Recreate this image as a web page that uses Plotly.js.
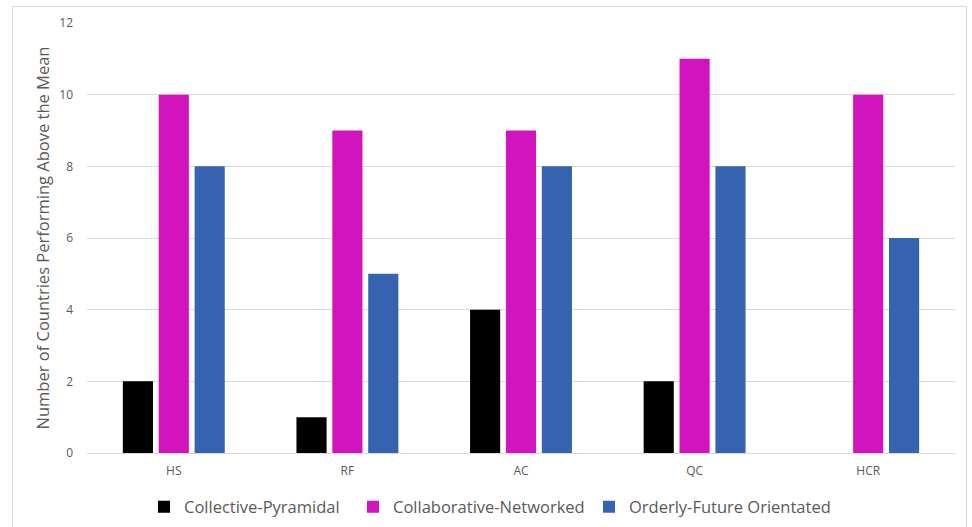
<!DOCTYPE html>
<html>
<head>
<meta charset="utf-8">
<script src="https://cdn.plot.ly/plotly-3.0.1.min.js"></script>
<style>
html,body{margin:0;padding:0;background:#fff;}
#wrap{position:relative;width:972px;height:527px;overflow:hidden;}
#frame{position:absolute;left:12px;top:6px;width:953px;height:540px;border:1px solid #d9d9d9;pointer-events:none;z-index:5;}
#chart{position:absolute;left:0;top:0;width:972px;height:527px;}
</style>
</head>
<body>
<div id="wrap"><div id="chart"></div><div id="frame"></div></div>
<script>
const categories = ["HS", "RF", "AC", "QC", "HCR"];
const collectivePyramidal = [2, 1, 4, 2, 0];
const collaborativeNetworked = [10, 9, 9, 11, 10];
const orderlyFuture = [8, 5, 8, 8, 6];
const seriesNames = ["Collective-Pyramidal", "Collaborative-Networked", "Orderly-Future Orientated"];
const seriesColors = ["#000000", "#D214BE", "#3563B0"];
const yTicks = [0, 2, 4, 6, 8, 10, 12];

const legendIds = ["legend", "legend2", "legend3"];
const legendX = [144, 353, 589];

const allValues = [collectivePyramidal, collaborativeNetworked, orderlyFuture];
const traces = allValues.map((vals, i) => ({
  type: "bar",
  x: categories,
  y: vals,
  name: seriesNames[i],
  legend: legendIds[i],
  marker: {color: seriesColors[i]},
  hoverinfo: "x+y+name"
}));

const layout = {
  width: 972, height: 527,
  paper_bgcolor: "#ffffff", plot_bgcolor: "#ffffff",
  margin: {l: 87, r: 17, t: 23, b: 74},
  barmode: "group",
  bargap: 0.38,
  bargroupgap: 0.16,
  font: {family: "Open Sans, sans-serif", color: "#595959"},
  xaxis: {
    type: "category",
    showgrid: false, zeroline: false, showline: false,
    ticks: "", ticklabelstandoff: 9,
    tickfont: {size: 12, color: "#595959"}
  },
  yaxis: {
    range: [0, 12],
    tickvals: yTicks,
    ticktext: yTicks.map(String),
    gridcolor: "#d9d9d9", gridwidth: 1,
    zeroline: true, zerolinecolor: "#d9d9d9", zerolinewidth: 1,
    showline: false, ticks: "",
    ticklabelstandoff: 13,
    tickfont: {size: 12, color: "#595959"},
    title: {text: "Number of Countries Performing Above the Mean", font: {size: 16.5, color: "#595959"}, standoff: 5}
  },
  showlegend: true
};
legendIds.forEach((id, i) => {
  layout[id] = {
    orientation: "h",
    xref: "container", yref: "container",
    x: legendX[i] / 972, xanchor: "left",
    y: 1 - 507 / 527, yanchor: "middle",
    font: {size: 16.5, color: "#595959"},
    itemwidth: 30,
    bgcolor: "rgba(0,0,0,0)"
  };
});

Plotly.newPlot("chart", traces, layout, {displayModeBar: false, staticPlot: true});
</script>
</body>
</html>
